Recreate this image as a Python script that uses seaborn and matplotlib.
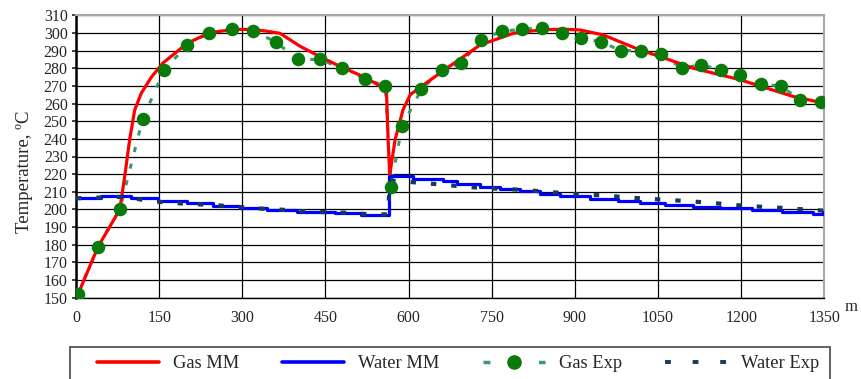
import numpy as np
import pandas as pd
import matplotlib
matplotlib.use("Agg")
import matplotlib.pyplot as plt
from matplotlib.lines import Line2D
from matplotlib.patches import Rectangle
import seaborn as sns

# ---- data ----
gas_mm_x = [5, 40, 79, 88, 97, 106, 118, 136, 157, 200, 240, 284, 320, 344, 368, 404, 440, 480, 518,
            560, 563, 566, 570, 576, 590, 603, 627, 669, 729, 789, 840, 879, 909, 951, 1017, 1054,
            1114, 1198, 1294, 1348]
gas_mm_y = [153, 179, 200, 219, 240, 256.5, 266, 275, 283, 294, 300, 302, 302, 301, 299.8, 292.5,
            286.6, 280.5, 275.3, 268, 240, 219.5, 228, 240, 256.5, 265, 270.6, 280, 293.2, 299.8,
            301.8, 302.1, 301.7, 298.9, 290.4, 286.6, 280, 273.5, 264, 260.3]

gas_exp_x = [3, 40, 79, 120, 159, 200, 240, 281, 320, 360, 400, 440, 480, 521, 558, 568, 588, 623,
             660, 695, 731, 768, 804, 840, 876, 911, 947, 983, 1019, 1055, 1093, 1128, 1164, 1198,
             1235, 1271, 1307, 1344]
gas_exp_y = [152, 179, 200, 251, 279, 293, 300, 302, 301, 295, 285, 285, 280, 274, 270, 213, 247, 268,
             279, 283, 296, 301, 302, 303, 300, 297, 295, 290, 290, 288, 280, 282, 279, 276,
             271, 270, 262, 261]

water_mm_x = [0, 45, 100, 148, 200, 248, 296, 344, 398, 467, 515, 564, 608, 662, 687, 729, 765, 801,
              837, 873, 927, 978, 1017, 1062, 1113, 1162, 1219, 1273, 1330, 1348, 1350]
water_mm_y = [206.6, 207.8, 206.7, 205.0, 203.5, 202.1, 200.6, 199.7, 198.6, 198.0, 196.6, 219.0,
              217.4, 216.2, 214.3, 212.8, 211.6, 210.6, 208.7, 207.6, 206.0, 204.9, 203.8, 202.6,
              201.6, 200.7, 199.5, 198.7, 197.7, 198.7, 198.7]

water_exp_x = [0, 46, 88, 128, 167, 206, 248, 287, 326, 365, 407, 446, 485, 524, 563, 566, 597, 633,
               666, 702, 738, 774, 810, 846, 882, 918, 954, 990, 1027, 1063, 1099, 1135, 1169, 1205,
               1243, 1279, 1315, 1350]
water_exp_y = [206.3, 206.8, 207.2, 205.0, 203.8, 203.1, 202.5, 201.6, 200.6, 200.0, 199.1, 198.5,
               198.2, 197.4, 197.2, 216.3, 215.7, 214.8, 213.9, 212.9, 212.0, 211.6, 211.0, 210.1,
               209.2, 208.2, 208.0, 206.9, 206.1, 205.5, 204.8, 204.0, 203.1, 202.1, 201.4, 200.8,
               200.0, 199.3]

x_ticks = [0, 150, 300, 450, 600, 750, 900, 1050, 1200, 1350]
y_ticks = list(range(150, 311, 10))
legend_labels = ["Gas MM", "Water MM", "Gas Exp", "Water Exp"]

# ---- style ----
sns.set_style("white")
plt.rcParams["font.family"] = ["Liberation Serif", "DejaVu Serif"]
plt.rcParams["font.size"] = 11.5

RED = "#ff0000"
BLUE = "#0000ff"
GREEN_LINE = "#3a9a6a"
GREEN_MARK = "#0a7a0a"
NAVY = "#163a5f"

fig = plt.figure(figsize=(8.61, 3.79), dpi=100)
ax = fig.add_axes([76 / 861, 1 - 297.7 / 379, (824.3 - 76) / 861, (297.7 - 15.3) / 379])

# Gas Exp dashed line (under the model)
sns.lineplot(x=gas_exp_x, y=gas_exp_y, ax=ax, sort=False, estimator=None, color=GREEN_LINE,
             lw=2.2, zorder=2).lines[-1].set_dashes((1.7, 3.9))
# Gas MM
sns.lineplot(x=gas_mm_x, y=gas_mm_y, ax=ax, sort=False, estimator=None, color=RED, lw=2.3, zorder=3)
# Water MM (stepped)
sns.lineplot(x=water_mm_x, y=water_mm_y, ax=ax, sort=False, estimator=None, color=BLUE, lw=2.3,
             drawstyle="steps-post", zorder=3)
# Water Exp dashed
sns.lineplot(x=water_exp_x, y=water_exp_y, ax=ax, sort=False, estimator=None, color=NAVY, lw=3.0,
             zorder=5).lines[-1].set_dashes((1.3, 3.6))
# Gas Exp markers
sns.scatterplot(x=gas_exp_x, y=gas_exp_y, ax=ax, color=GREEN_MARK, s=95, linewidth=0, zorder=6)

ax.set_xlim(0, 1350)
ax.set_ylim(150, 310)
ax.set_xticks(x_ticks)
ax.set_yticks(y_ticks)
ax.grid(True, color="black", lw=0.9)
ax.set_axisbelow(True)
ax.tick_params(axis="y", length=3, width=1.2, pad=3, labelsize=11.5, direction="out", left=True)
ax.tick_params(axis="x", length=0, pad=9, labelsize=11.5)
for s in ["top", "right"]:
    ax.spines[s].set_color("#a8a8a8")
    ax.spines[s].set_linewidth(1.5)
ax.spines["left"].set_color("black")
ax.spines["left"].set_linewidth(1.8)
ax.spines["bottom"].set_color("black")
ax.spines["bottom"].set_linewidth(1.0)
ax.set_xlabel("")
ax.set_ylabel("Temperature, ºC", fontsize=13.5)
ax.yaxis.set_label_coords((33 - 76) / 748.3, (297.7 - 172) / 282.4)

fig.text(851 / 861, 1 - 307 / 379, "m", ha="center", va="center", fontsize=12)

# legend frame (extends past the bottom edge, as in the reference)
fig.add_artist(Rectangle((70 / 861, -0.1), 760 / 861, (1 - 347 / 379) + 0.1,
                         transform=fig.transFigure, fill=False, edgecolor="#555555", lw=1.3))

handles = [
    Line2D([], [], color=RED, lw=2.6),
    Line2D([], [], color=BLUE, lw=2.6),
    Line2D([], [], color=GREEN_LINE, lw=2.5, dashes=(2.0, 6.0), marker="o", markersize=9.5,
           markerfacecolor=GREEN_MARK, markeredgecolor=GREEN_MARK),
    Line2D([], [], color=NAVY, lw=2.8, dashes=(1.5, 5.6)),
]
leg = fig.legend(handles, legend_labels, loc="center left",
                 bbox_to_anchor=(97 / 861, 1 - 364 / 379, 722 / 861, 0.0), mode="expand",
                 ncol=4, frameon=False, fontsize=13.3, borderaxespad=0, borderpad=0,
                 handlelength=3.35, handletextpad=0.76, columnspacing=1.5)

fig.savefig("out.png", dpi=100)
